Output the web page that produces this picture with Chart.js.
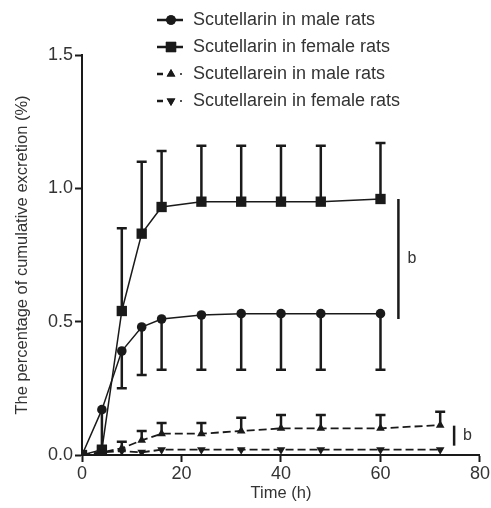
<!DOCTYPE html>
<html>
<head>
<meta charset="utf-8">
<script src="https://cdn.jsdelivr.net/npm/chart.js@4"></script>
<style>
  body { margin: 0; background: #fff; }
  #wrap { width: 491px; height: 508px; }
</style>
</head>
<body>
<div id="wrap"><canvas id="excretionChart" width="491" height="508"></canvas></div>
<script>
// sampling times (h)
const timesScut = [0, 4, 8, 12, 16, 24, 32, 40, 48, 60];
const timesScutein = [0, 4, 8, 12, 16, 24, 32, 40, 48, 60, 72];

// cumulative excretion (%) and SD
const scutMale = [0, 0.17, 0.39, 0.48, 0.51, 0.525, 0.53, 0.53, 0.53, 0.53];
const scutMaleSd = [0, 0.15, 0.14, 0.18, 0.19, 0.205, 0.21, 0.21, 0.21, 0.21];
const scutFemale = [0, 0.02, 0.54, 0.83, 0.93, 0.95, 0.95, 0.95, 0.95, 0.96];
const scutFemaleSd = [0, 0.01, 0.31, 0.27, 0.21, 0.21, 0.21, 0.21, 0.21, 0.21];
const sceinMale = [0, 0.01, 0.025, 0.055, 0.08, 0.08, 0.09, 0.1, 0.1, 0.1, 0.112];
const sceinMaleSd = [0, 0.005, 0.025, 0.035, 0.04, 0.04, 0.05, 0.05, 0.05, 0.05, 0.05];
const sceinFemale = [0, 0.01, 0.015, 0.01, 0.02, 0.02, 0.02, 0.02, 0.02, 0.02, 0.02];

const seriesLabels = ['Scutellarin in male rats', 'Scutellarin in female rats',
                      'Scutellarein in male rats', 'Scutellarein in female rats'];

const xTicks = [0, 20, 40, 60, 80];
const yTicks = [0, 0.5, 1.0, 1.5];

// significance marks: [x, yFrom, yTo, label]
const sigMarks = [[63.6, 0.51, 0.96, 'b'], [74.8, 0.035, 0.11, 'b']];

const ink = '#1a1a1a';
const fontFam = '"Liberation Sans", Arial, sans-serif';

function pts(xs, ys) {
    return ys.map((y, i) => ({ x: xs[i], y: y }));
}

// error bars: dir 1 = up, -1 = down
const errorBars = {
    id: 'errorBars',
    afterDatasetsDraw(chart) {
        const c = chart.ctx;
        const xs = chart.scales.x, ys = chart.scales.y;
        chart.data.datasets.forEach((ds) => {
            if (!ds.sd) return;
            c.save();
            c.strokeStyle = ink;
            c.lineWidth = 2.5;
            ds.data.forEach((p, i) => {
                const sd = ds.sd[i];
                if (!sd) return;
                const px = xs.getPixelForValue(p.x);
                const y0 = ys.getPixelForValue(p.y);
                const y1 = ys.getPixelForValue(p.y + ds.dir * sd);
                c.beginPath();
                c.moveTo(px, y0);
                c.lineTo(px, y1);
                c.moveTo(px - 5, y1);
                c.lineTo(px + 5, y1);
                c.stroke();
            });
            c.restore();
        });
    }
};

const sigPlugin = {
    id: 'sigPlugin',
    afterDraw(chart) {
        const c = chart.ctx;
        const xs = chart.scales.x, ys = chart.scales.y;
        c.save();
        c.strokeStyle = ink;
        c.fillStyle = '#333';
        c.lineWidth = 2.5;
        c.font = '16px ' + fontFam;
        c.textBaseline = 'middle';
        sigMarks.forEach(([x, a, b, t]) => {
            const px = xs.getPixelForValue(x);
            const pa = ys.getPixelForValue(a), pb = ys.getPixelForValue(b);
            c.beginPath();
            c.moveTo(px, pa);
            c.lineTo(px, pb);
            c.stroke();
            c.fillText(t, px + 9, (pa + pb) / 2);
        });
        c.restore();
    }
};

// legend drawn as line + marker + text rows
const legendPlugin = {
    id: 'legendPlugin',
    afterDraw(chart) {
        const c = chart.ctx;
        const rowY = [20, 47, 74, 101];
        c.save();
        c.font = '18px ' + fontFam;
        c.textBaseline = 'middle';
        chart.data.datasets.forEach((ds, i) => {
            const y = rowY[i];
            c.strokeStyle = ink;
            c.fillStyle = ink;
            c.lineWidth = 2.5;
            c.beginPath();
            if (ds.borderDash) {
                c.moveTo(157, y); c.lineTo(163, y);
                c.stroke();
                c.beginPath();
                c.arc(181, y, 1, 0, Math.PI * 2);
                c.fill();
            } else {
                c.moveTo(157, y); c.lineTo(183, y);
                c.stroke();
            }
            Chart.helpers.drawPoint(c, {
                pointStyle: ds.pointStyle,
                radius: ds.pointRadius,
                rotation: ds.pointRotation || 0
            }, 171, y);
            c.fill();
            c.fillStyle = '#333';
            c.fillText(ds.label, 193, y);
        });
        c.restore();
    }
};

const ctx = document.getElementById('excretionChart');

new Chart(ctx, {
    type: 'line',
    data: {
        datasets: [{
            label: seriesLabels[0],
            data: pts(timesScut, scutMale),
            sd: scutMaleSd, dir: -1,
            borderColor: ink, backgroundColor: ink,
            borderWidth: 1.5,
            pointStyle: 'circle', pointRadius: 4.8,
            pointBackgroundColor: ink, pointBorderWidth: 0
        }, {
            label: seriesLabels[1],
            data: pts(timesScut, scutFemale),
            sd: scutFemaleSd, dir: 1,
            borderColor: ink, backgroundColor: ink,
            borderWidth: 1.5,
            pointStyle: 'rect', pointRadius: 7.3,
            pointBackgroundColor: ink, pointBorderWidth: 0
        }, {
            label: seriesLabels[2],
            data: pts(timesScutein, sceinMale),
            sd: sceinMaleSd, dir: 1,
            borderColor: ink, backgroundColor: ink,
            borderWidth: 1.8, borderDash: [8, 4],
            pointStyle: 'triangle', pointRadius: 5,
            pointBackgroundColor: ink, pointBorderWidth: 0
        }, {
            label: seriesLabels[3],
            data: pts(timesScutein, sceinFemale),
            borderColor: ink, backgroundColor: ink,
            borderWidth: 1.8, borderDash: [8, 4],
            pointStyle: 'triangle', pointRotation: 180, pointRadius: 5,
            pointBackgroundColor: ink, pointBorderWidth: 0
        }]
    },
    options: {
        responsive: false,
        animation: false,
        layout: { padding: { top: 55, right: 11, left: 0, bottom: 0 } },
        plugins: {
            legend: { display: false },
            tooltip: { enabled: false }
        },
        scales: {
            x: {
                type: 'linear',
                min: 0, max: 80,
                afterBuildTicks: (s) => { s.ticks = xTicks.map(v => ({ value: v })); },
                afterFit: (s) => { s.height = 53; },
                grid: { drawOnChartArea: false, tickLength: 7, tickColor: ink, tickWidth: 2 },
                border: { color: ink, width: 2 },
                ticks: { color: '#333', padding: 1, font: { family: fontFam, size: 18 } },
                title: {
                    display: true, text: 'Time (h)', color: '#333',
                    font: { family: fontFam, size: 16.5 },
                    padding: { top: 0, bottom: 5 }
                }
            },
            y: {
                min: 0, max: 1.5,
                afterBuildTicks: (s) => { s.ticks = yTicks.map(v => ({ value: v })); },
                afterFit: (s) => { s.width = 82; },
                grid: { drawOnChartArea: false, tickLength: 7, tickColor: ink, tickWidth: 2 },
                border: { color: ink, width: 2 },
                ticks: {
                    color: '#333', padding: 2,
                    font: { family: fontFam, size: 18 },
                    callback: (v) => v.toFixed(1)
                },
                title: {
                    display: true, text: 'The percentage of cumulative excretion (%)', color: '#333',
                    font: { family: fontFam, size: 16.5 },
                    padding: { top: 13, bottom: 0 }
                }
            }
        }
    },
    plugins: [errorBars, sigPlugin, legendPlugin]
});
</script>
</body>
</html>
